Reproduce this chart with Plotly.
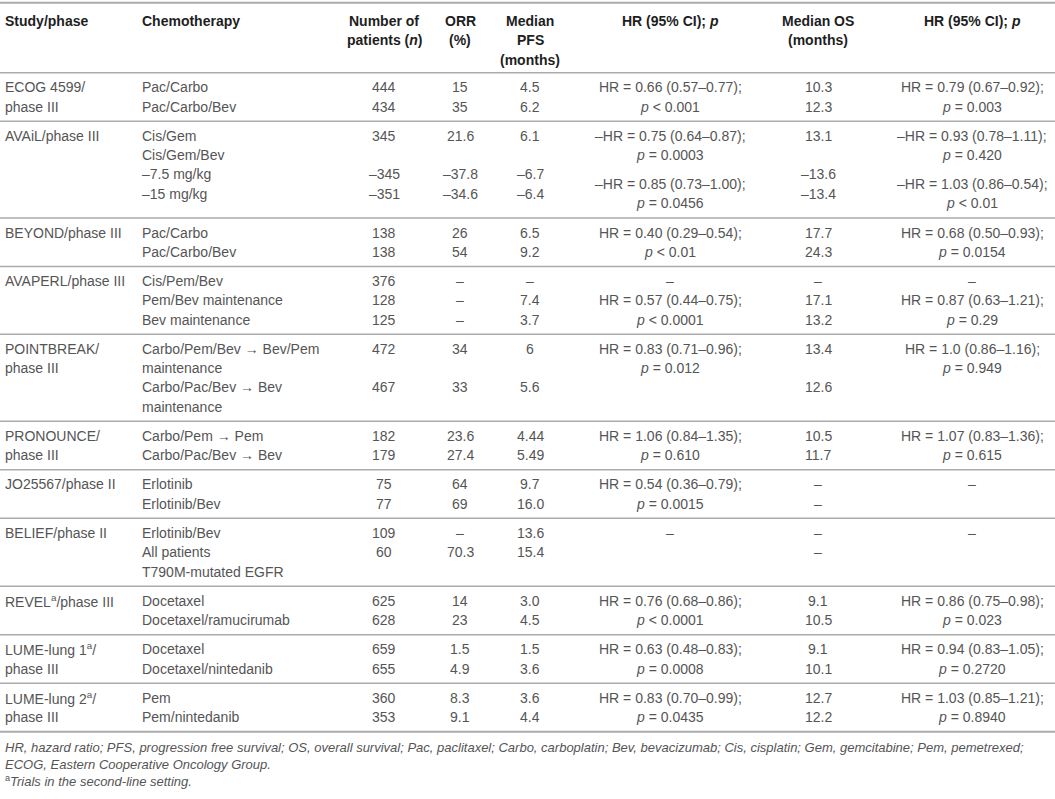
import plotly.graph_objects as go

# ---- table content -------------------------------------------------------
headers = [
    ["Study/phase"],
    ["Chemotherapy"],
    ["Number of", "patients (<i>n</i>)"],
    ["ORR", "(%)"],
    ["Median", "PFS", "(months)"],
    ["HR (95% CI); <i>p</i>"],
    ["Median OS", "(months)"],
    ["HR (95% CI); <i>p</i>"],
]

study_phase = [
    ["ECOG 4599/", "phase III"],
    ["AVAiL/phase III"],
    ["BEYOND/phase III"],
    ["AVAPERL/phase III"],
    ["POINTBREAK/", "phase III"],
    ["PRONOUNCE/", "phase III"],
    ["JO25567/phase II"],
    ["BELIEF/phase II"],
    ["REVEL<sup>a</sup>/phase III"],
    ["LUME-lung 1<sup>a</sup>/", "phase III"],
    ["LUME-lung 2<sup>a</sup>/", "phase III"],
]

chemotherapy = [
    ["Pac/Carbo", "Pac/Carbo/Bev"],
    ["Cis/Gem", "Cis/Gem/Bev", "–7.5 mg/kg", "–15 mg/kg"],
    ["Pac/Carbo", "Pac/Carbo/Bev"],
    ["Cis/Pem/Bev", "Pem/Bev maintenance", "Bev maintenance"],
    ["Carbo/Pem/Bev → Bev/Pem", "maintenance", "Carbo/Pac/Bev → Bev", "maintenance"],
    ["Carbo/Pem → Pem", "Carbo/Pac/Bev → Bev"],
    ["Erlotinib", "Erlotinib/Bev"],
    ["Erlotinib/Bev", "All patients", "T790M-mutated EGFR"],
    ["Docetaxel", "Docetaxel/ramucirumab"],
    ["Docetaxel", "Docetaxel/nintedanib"],
    ["Pem", "Pem/nintedanib"],
]

n_patients = [
    ["444", "434"],
    ["345", "", "–345", "–351"],
    ["138", "138"],
    ["376", "128", "125"],
    ["472", "", "467"],
    ["182", "179"],
    ["75", "77"],
    ["109", "60"],
    ["625", "628"],
    ["659", "655"],
    ["360", "353"],
]

orr = [
    ["15", "35"],
    ["21.6", "", "–37.8", "–34.6"],
    ["26", "54"],
    ["–", "–", "–"],
    ["34", "", "33"],
    ["23.6", "27.4"],
    ["64", "69"],
    ["–", "70.3"],
    ["14", "23"],
    ["1.5", "4.9"],
    ["8.3", "9.1"],
]

median_pfs = [
    ["4.5", "6.2"],
    ["6.1", "", "–6.7", "–6.4"],
    ["6.5", "9.2"],
    ["–", "7.4", "3.7"],
    ["6", "", "5.6"],
    ["4.44", "5.49"],
    ["9.7", "16.0"],
    ["13.6", "15.4"],
    ["3.0", "4.5"],
    ["1.5", "3.6"],
    ["3.6", "4.4"],
]

hr_pfs = [
    ["HR = 0.66 (0.57–0.77);", "<i>p</i> < 0.001"],
    ["–HR = 0.75 (0.64–0.87);", "<i>p</i> = 0.0003", "–HR = 0.85 (0.73–1.00);", "<i>p</i> = 0.0456"],
    ["HR = 0.40 (0.29–0.54);", "<i>p</i> < 0.01"],
    ["–", "HR = 0.57 (0.44–0.75);", "<i>p</i> < 0.0001"],
    ["HR = 0.83 (0.71–0.96);", "<i>p</i> = 0.012"],
    ["HR = 1.06 (0.84–1.35);", "<i>p</i> = 0.610"],
    ["HR = 0.54 (0.36–0.79);", "<i>p</i> = 0.0015"],
    ["–"],
    ["HR = 0.76 (0.68–0.86);", "<i>p</i> < 0.0001"],
    ["HR = 0.63 (0.48–0.83);", "<i>p</i> = 0.0008"],
    ["HR = 0.83 (0.70–0.99);", "<i>p</i> = 0.0435"],
]

median_os = [
    ["10.3", "12.3"],
    ["13.1", "", "–13.6", "–13.4"],
    ["17.7", "24.3"],
    ["–", "17.1", "13.2"],
    ["13.4", "", "12.6"],
    ["10.5", "11.7"],
    ["–", "–"],
    ["–", "–"],
    ["9.1", "10.5"],
    ["9.1", "10.1"],
    ["12.7", "12.2"],
]

hr_os = [
    ["HR = 0.79 (0.67–0.92);", "<i>p</i> = 0.003"],
    ["–HR = 0.93 (0.78–1.11);", "<i>p</i> = 0.420", "–HR = 1.03 (0.86–0.54);", "<i>p</i> < 0.01"],
    ["HR = 0.68 (0.50–0.93);", "<i>p</i> = 0.0154"],
    ["–", "HR = 0.87 (0.63–1.21);", "<i>p</i> = 0.29"],
    ["HR = 1.0 (0.86–1.16);", "<i>p</i> = 0.949"],
    ["HR = 1.07 (0.83–1.36);", "<i>p</i> = 0.615"],
    ["–"],
    ["–"],
    ["HR = 0.86 (0.75–0.98);", "<i>p</i> = 0.023"],
    ["HR = 0.94 (0.83–1.05);", "<i>p</i> = 0.2720"],
    ["HR = 1.03 (0.85–1.21);", "<i>p</i> = 0.8940"],
]

footnotes = [
    "<i>HR, hazard ratio; PFS, progression free survival; OS, overall survival; Pac, paclitaxel; "
    "Carbo, carboplatin; Bev, bevacizumab; Cis, cisplatin; Gem, gemcitabine; Pem, pemetrexed;</i>",
    "<i>ECOG, Eastern Cooperative Oncology Group.</i>",
    "<sup>a</sup><i>Trials in the second-line setting.</i>",
]

columns = [study_phase, chemotherapy, n_patients, orr, median_pfs, hr_pfs, median_os, hr_os]

# ---- layout settings ------------------------------------------------------
W, H = 1055, 799
col_x = [3, 140, 384, 460, 530, 670, 818, 972]
col_anchor = ["left", "left", "center", "center", "center", "center", "center", "center"]
# AVAiL hazard-ratio blocks: second block sits half a line lower
line_shift = {(1, 5): [0, 0, 0.5, 0.5], (1, 7): [0, 0, 0.5, 0.5]}

LINE = 19.3
PAD = 9.9
top_line = 2.7
header_first = 21
header_bottom = 72.7
body_color = "#555555"
head_color = "#1e1e1e"
rule_color = "#ababab"
font_family = "Liberation Sans, Arial, sans-serif"
fs = 14

annotations = []
shapes = []


def add_text(x, y, text, anchor, color, size=fs):
    annotations.append(dict(
        x=x, y=y, xref="x", yref="y", text=text, showarrow=False,
        xanchor=anchor, yanchor="middle",
        font=dict(family=font_family, size=size, color=color),
    ))


def add_rule(y, width=1.5):
    shapes.append(dict(
        type="line", xref="x", yref="y", x0=0, x1=W, y0=y, y1=y,
        line=dict(color=rule_color, width=width),
    ))


add_rule(top_line, 2)
for c, lines in enumerate(headers):
    for i, t in enumerate(lines):
        add_text(col_x[c], header_first + i * LINE, "<b>" + t + "</b>", col_anchor[c], head_color)
add_rule(header_bottom)

y0 = header_bottom
for g in range(len(study_phase)):
    depth = 0
    for c, col in enumerate(columns):
        shift = line_shift.get((g, c), [0] * len(col[g]))
        for i, t in enumerate(col[g]):
            pos = i + shift[i]
            depth = max(depth, pos + 1)
            if t:
                add_text(col_x[c], y0 + PAD / 2 + LINE / 2 + pos * LINE, t, col_anchor[c], body_color)
    y0 += depth * LINE + PAD
    add_rule(y0, 2 if g == len(study_phase) - 1 else 1.5)

fy = y0 + 16
for t in footnotes:
    add_text(col_x[0], fy, t, "left", body_color, 13)
    fy += 16.8

fig = go.Figure()
fig.update_layout(
    width=W, height=H,
    margin=dict(l=0, r=0, t=0, b=0),
    paper_bgcolor="white", plot_bgcolor="white",
    xaxis=dict(range=[0, W], visible=False, fixedrange=True),
    yaxis=dict(range=[H, 0], visible=False, fixedrange=True),
    annotations=annotations,
    shapes=shapes,
    showlegend=False,
)
fig.write_html("out.html", config={"displayModeBar": False},
               post_script="document.body.style.margin = '0';")
